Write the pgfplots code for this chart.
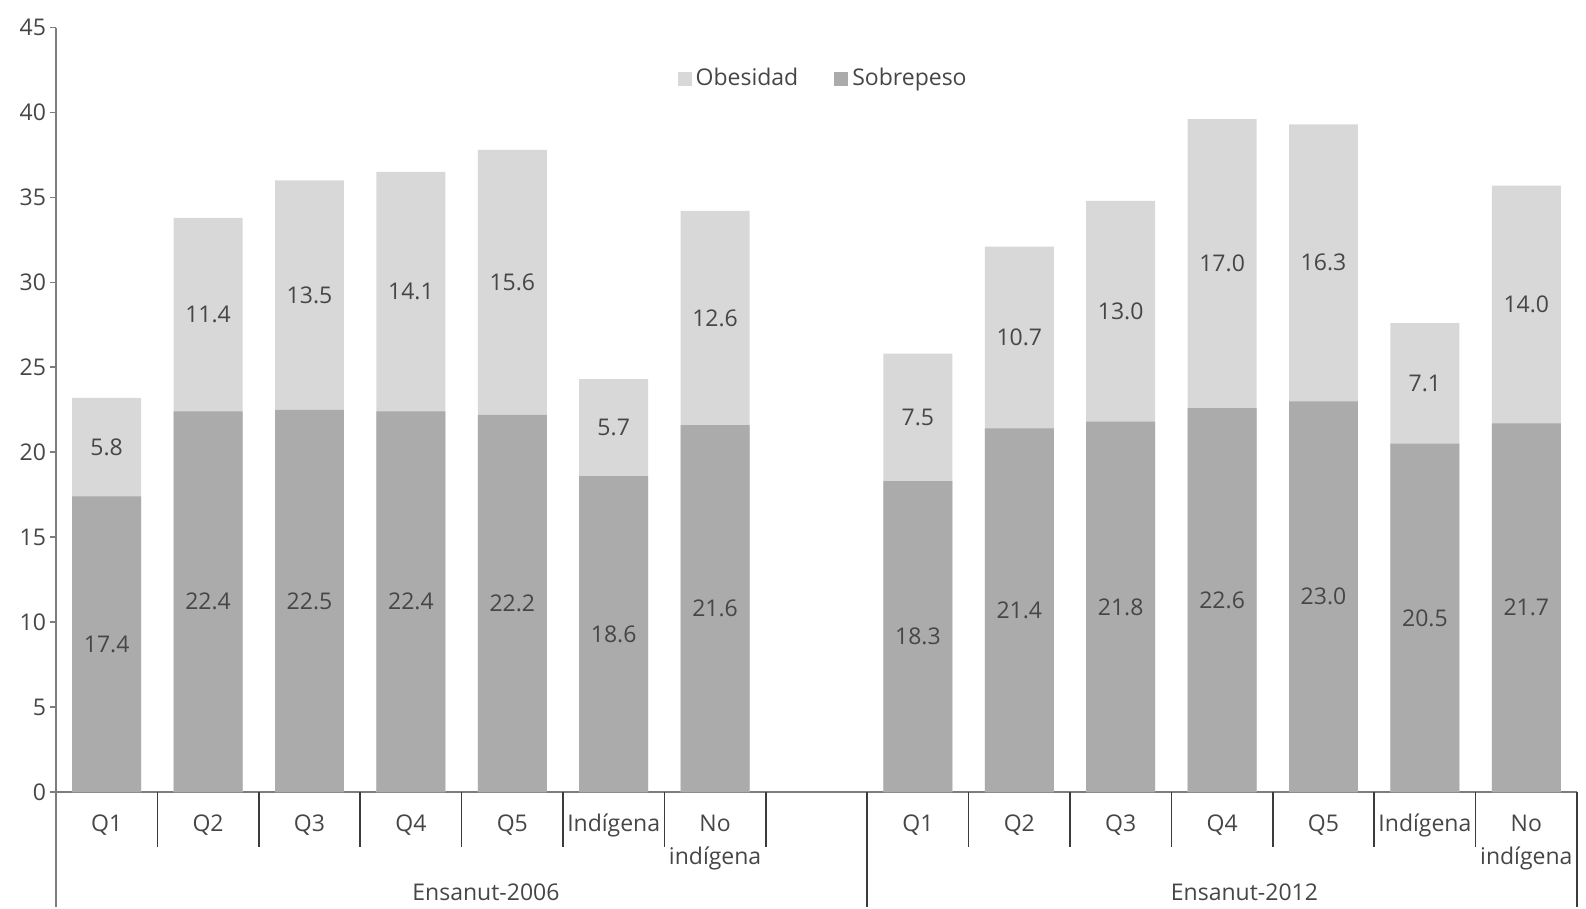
\documentclass[border=0pt]{standalone}
\usepackage{pgfplots}
\pgfplotsset{compat=1.18}
\usepackage{pgfplotstable}
\usepackage{fontspec}
\setmainfont{Open Sans}

\definecolor{obes}{RGB}{216,216,216}
\definecolor{sobre}{RGB}{171,171,171}
\definecolor{txt}{RGB}{70,70,70}
\definecolor{axisgray}{RGB}{125,125,125}
\definecolor{sepline}{RGB}{60,60,60}

% x: slot (0-6 = Ensanut-2006, 8-14 = Ensanut-2012), sob = Sobrepeso, obe = Obesidad
\pgfplotstableread{
x  sob  obe
0  17.4 5.8
1  22.4 11.4
2  22.5 13.5
3  22.4 14.1
4  22.2 15.6
5  18.6 5.7
6  21.6 12.6
8  18.3 7.5
9  21.4 10.7
10 21.8 13.0
11 22.6 17.0
12 23.0 16.3
13 20.5 7.1
14 21.7 14.0
}\datatable

\begin{document}
\begin{tikzpicture}[font=\fontsize{11.5}{13}\selectfont]
\begin{axis}[
  scale only axis,
  width=760.5pt, height=382.25pt,
  xmin=-0.5, xmax=14.5,
  ymin=0, ymax=45,
  ytick={0,5,...,45},
  xtick=\empty,
  axis lines*=left,
  axis line style={axisgray, line width=1pt},
  tick align=outside,
  major tick length=3pt,
  y tick style={axisgray, line width=0.8pt},
  yticklabel style={text=txt, xshift=1.5pt},
  /pgf/number format/assume math mode=true,
  ybar, bar width=0.68,
  clip=false,
  legend columns=2,
  legend style={draw=none, fill=none, at={(0.505,0.933)}, anchor=center,
    font=\fontsize{11.5}{13}\selectfont, text=txt,
    /tikz/every even column/.append style={column sep=16pt}},
  legend image code/.code={\fill[#1] (0pt,-3.5pt) rectangle (7pt,3.5pt);},
]
% full column height = Sobrepeso + Obesidad, Sobrepeso drawn over it
\addplot[fill=obes, draw=none, bar shift=0pt]
  table[x=x, y expr=\thisrow{sob}+\thisrow{obe}] {\datatable};
\addlegendentry{Obesidad}
\addplot[fill=sobre, draw=none, bar shift=0pt]
  table[x=x, y=sob] {\datatable};
\addlegendentry{Sobrepeso}

% value labels centred in each segment
\addplot[draw=none, fill=none, bar shift=0pt, forget plot,
  point meta=explicit,
  nodes near coords={\pgfmathprintnumber[fixed,fixed zerofill,precision=1]{\pgfplotspointmeta}},
  every node near coord/.append style={anchor=center, text=txt}]
  table[x=x, y expr=\thisrow{sob}/2, meta=sob] {\datatable};
\addplot[draw=none, fill=none, bar shift=0pt, forget plot,
  point meta=explicit,
  nodes near coords={\pgfmathprintnumber[fixed,fixed zerofill,precision=1]{\pgfplotspointmeta}},
  every node near coord/.append style={anchor=center, text=txt}]
  table[x=x, y expr=\thisrow{sob}+\thisrow{obe}/2, meta=obe] {\datatable};

% category separators below the axis
\pgfplotsinvokeforeach{0.5,1.5,2.5,3.5,4.5,5.5,6.5,8.5,9.5,10.5,11.5,12.5,13.5}{
  \draw[sepline, line width=0.8pt] (axis cs:#1,0) -- ([yshift=-27.5pt]axis cs:#1,0);
}
\draw[axisgray, line width=1pt] (axis cs:-0.5,0) -- ([yshift=-57.5pt]axis cs:-0.5,0);
\pgfplotsinvokeforeach{7.5,14.5}{
  \draw[sepline, line width=0.8pt] (axis cs:#1,0) -- ([yshift=-57.5pt]axis cs:#1,0);
}

% category names
\pgfplotsinvokeforeach{0,8}{
  \node[anchor=base, text=txt] at ([yshift=-19.75pt]axis cs:#1,0) {Q1};
}
\pgfplotsinvokeforeach{1,9}{
  \node[anchor=base, text=txt] at ([yshift=-19.75pt]axis cs:#1,0) {Q2};
}
\pgfplotsinvokeforeach{2,10}{
  \node[anchor=base, text=txt] at ([yshift=-19.75pt]axis cs:#1,0) {Q3};
}
\pgfplotsinvokeforeach{3,11}{
  \node[anchor=base, text=txt] at ([yshift=-19.75pt]axis cs:#1,0) {Q4};
}
\pgfplotsinvokeforeach{4,12}{
  \node[anchor=base, text=txt] at ([yshift=-19.75pt]axis cs:#1,0) {Q5};
}
\pgfplotsinvokeforeach{5,13}{
  \node[anchor=base, text=txt, inner sep=0pt] at ([yshift=-19.75pt]axis cs:#1,0) {Indígena};
}
\pgfplotsinvokeforeach{6,14}{
  \node[anchor=base, text=txt] at ([yshift=-19.75pt]axis cs:#1,0) {No};
  \node[anchor=base, text=txt] at ([yshift=-36pt]axis cs:#1,0) {indígena};
}
\node[anchor=base, text=txt] at ([yshift=-54pt]axis cs:3.74,0) {Ensanut-2006};
\node[anchor=base, text=txt] at ([yshift=-54pt]axis cs:11.22,0) {Ensanut-2012};

\coordinate (bbsw) at (rel axis cs:-0.0368,-0.153);
\coordinate (bbne) at (rel axis cs:1.0059,1.036);
\end{axis}
\pgfresetboundingbox
\useasboundingbox (bbsw) rectangle (bbne);
\end{tikzpicture}
\end{document}
